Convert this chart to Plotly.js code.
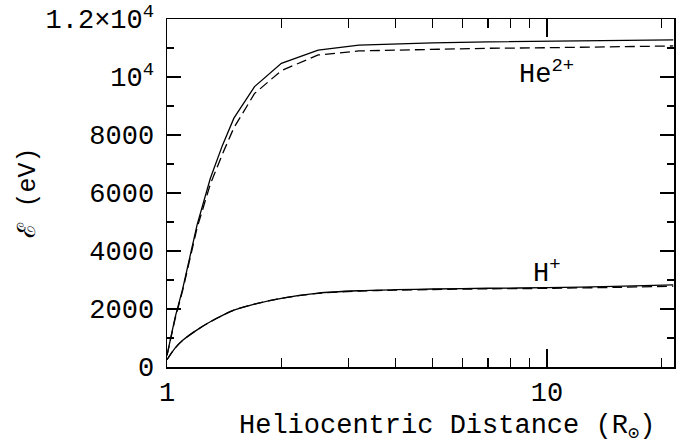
<!DOCTYPE html>
<html>
<head>
<meta charset="utf-8">
<script src="https://cdn.plot.ly/plotly-3.0.1.min.js"></script>
<style>html,body{margin:0;padding:0;background:#fff;}#chart{width:691px;height:445px;}</style>
</head>
<body>
<div id="chart"></div>
<script>
// Heliocentric distance (solar radii)
const distance = [1.0, 1.05, 1.1, 1.2, 1.3, 1.4, 1.5, 1.7, 2.0, 2.5, 3.2, 4, 5, 7, 10, 15, 21.5];
// He2+ energies (eV)
const heSolid  = [400, 1700, 2700, 4900, 6500, 7650, 8580, 9670, 10470, 10930, 11100, 11150, 11180, 11210, 11230, 11255, 11280];
const heDashed = [400, 1650, 2650, 4800, 6300, 7350, 8250, 9430, 10220, 10760, 10900, 10930, 10950, 10990, 11010, 11040, 11070];
// H+ energies (eV)
const hSolid   = [250, 650, 920, 1280, 1560, 1780, 1960, 2170, 2370, 2550, 2630, 2665, 2690, 2715, 2735, 2780, 2830];
const hDashed  = [250, 650, 920, 1280, 1560, 1780, 1960, 2170, 2370, 2540, 2620, 2650, 2672, 2695, 2712, 2745, 2785];

const yTickVals = [0, 2000, 4000, 6000, 8000, 10000, 12000];
const yTickText = ['0', '2000', '4000', '6000', '8000', '10<sup>4</sup>', '1.2×10<sup>4</sup>'];
const xTickVals = [1, 10];
const xTickText = ['1', '10'];
const xMinorVals = [2, 3, 4, 5, 6, 7, 8, 9, 20];
const yMinorVals = [1000, 3000, 5000, 7000, 9000, 11000];

const FONT = 'Liberation Mono, DejaVu Sans Mono, monospace';
const solid = {color: '#000', width: 1.3};
const dashed = {color: '#000', width: 1.3, dash: '10px,5px'};
const solidS = {color: '#000', width: 1.3, shape: 'spline', smoothing: 0.8};
const dashedS = {color: '#000', width: 1.3, dash: '10px,5px', shape: 'spline', smoothing: 0.8};

const traces = [
  {x: distance, y: heSolid, mode: 'lines', line: solid, showlegend: false},
  {x: distance, y: heDashed, mode: 'lines', line: dashed, showlegend: false},
  {x: distance, y: hSolid, mode: 'lines', line: solidS, showlegend: false},
  {x: distance, y: hDashed, mode: 'lines', line: dashedS, showlegend: false}
];

const layout = {
  width: 691, height: 445,
  margin: {l: 167, r: 17, t: 19, b: 78},
  paper_bgcolor: '#fff', plot_bgcolor: '#fff',
  font: {family: FONT, size: 27, color: '#000'},
  showlegend: false,
  xaxis: {
    type: 'log', range: [0, Math.log10(21.6)],
    tickmode: 'array', tickvals: xTickVals, ticktext: xTickText,
    ticks: 'inside', ticklen: 18, tickwidth: 1.2, tickcolor: '#000',
    ticklabelstandoff: 0,
    minor: {tickmode: 'array', tickvals: xMinorVals, ticks: 'inside', ticklen: 9, tickwidth: 1.2, tickcolor: '#000', showgrid: false},
    showline: true, linecolor: '#000', linewidth: 1.5, mirror: 'ticks',
    showgrid: false, zeroline: false,
    tickfont: {family: FONT, size: 27}
  },
  yaxis: {
    range: [0, 12000],
    tickmode: 'array', tickvals: yTickVals, ticktext: yTickText,
    ticks: 'inside', ticklen: 14, tickwidth: 1.2, tickcolor: '#000',
    ticklabelstandoff: 6,
    minor: {tickmode: 'array', tickvals: yMinorVals, ticks: 'inside', ticklen: 7, tickwidth: 1.2, tickcolor: '#000', showgrid: false},
    showline: true, linecolor: '#000', linewidth: 1.5, mirror: 'ticks',
    showgrid: false, zeroline: false,
    tickfont: {family: FONT, size: 27}
  },
  annotations: [
    {xref: 'x', yref: 'y', x: 1.0, y: 10150, text: 'He<sup>2+</sup>', showarrow: false,
     xanchor: 'center', yanchor: 'middle', font: {family: FONT, size: 27}},
    {xref: 'x', yref: 'y', x: 1.0, y: 3300, text: 'H<sup>+</sup>', showarrow: false,
     xanchor: 'center', yanchor: 'middle', font: {family: FONT, size: 27}},
    {xref: 'paper', yref: 'paper', x: 0.552, y: -0.175, text: 'Heliocentric Distance (R<sub>⊙</sub>)', showarrow: false,
     xanchor: 'center', yanchor: 'middle', font: {family: FONT, size: 27}},
    {xref: 'paper', yref: 'paper', x: -0.275, y: 0.5, text: 'ℰ (eV)', showarrow: false, textangle: -90,
     xanchor: 'center', yanchor: 'middle', font: {family: FONT, size: 25}}
  ]
};

Plotly.newPlot('chart', traces, layout, {displayModeBar: false, staticPlot: true});
</script>
</body>
</html>
